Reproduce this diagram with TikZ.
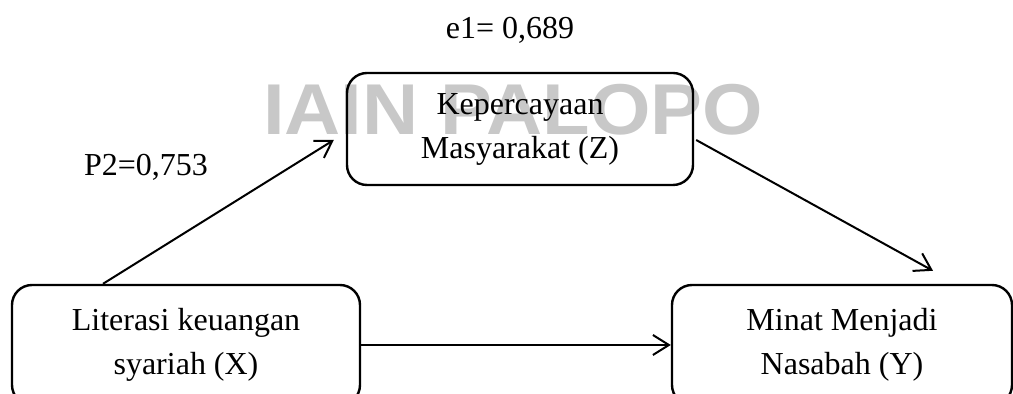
\documentclass[tikz,border=0pt]{standalone}
\usepackage{fontspec}
\setmainfont{Liberation Serif}
\newfontfamily\wmfont{Liberation Sans}
\usetikzlibrary{arrows.meta}
\definecolor{wmgray}{RGB}{200,200,200}

\begin{document}
\begin{tikzpicture}[x=0.5pt, y=-0.5pt, thick,
    main/.style = {draw, rounded corners=10pt, line width=1.2pt, align=center, inner sep=0pt, font=\fontsize{16}{22}\selectfont},
    lbl/.style = {font=\fontsize{16}{22}\selectfont},
    arr/.style = {-{Straight Barb[length=8pt,width=10pt]}, line width=1pt}]
    \useasboundingbox (0,0) rectangle (1013,394);
    % watermark
    \node[text=wmgray, font=\wmfont\bfseries\fontsize{36}{36}\selectfont, xscale=1.08] (wm) at (513,110) {IAIN PALOPO};
    \node[main, minimum width=173pt, minimum height=56pt] (z) at (520,129) {Kepercayaan\\Masyarakat (Z)};
    \node[main, minimum width=174pt, minimum height=60pt] (x) at (186,345) {Literasi keuangan\\syariah (X)};
    \node[main, minimum width=170pt, minimum height=60pt] (y) at (842,345) {Minat Menjadi\\Nasabah (Y)};
    \node[lbl] (e1) at (510,30) {e1= 0,689};
    \node[lbl] (p2) at (146,167) {P2=0,753};
    \draw[arr] ([xshift=-41.5pt]x.north) -- ([xshift=-6pt,yshift=-5.5pt]z.west);
    \draw[arr] ([xshift=1pt,yshift=-5.5pt]z.east) -- ([xshift=45.5pt,yshift=6.5pt]y.north);
    \draw[arr] (x.east) -- (y.west);
\end{tikzpicture}
\end{document}
